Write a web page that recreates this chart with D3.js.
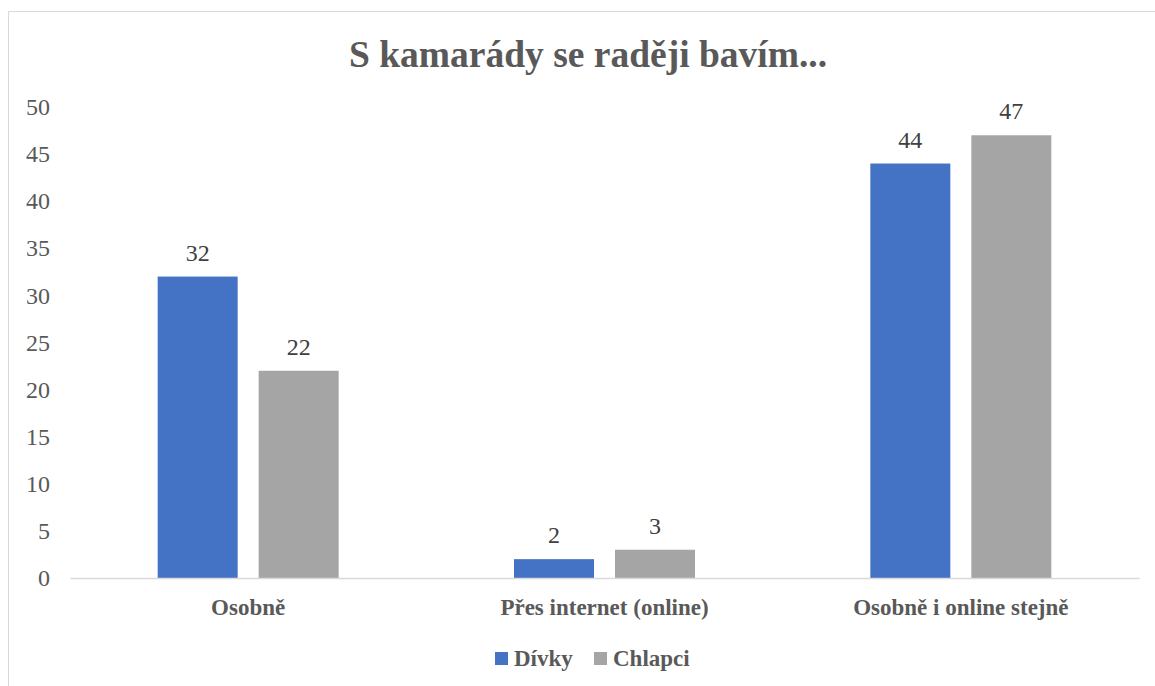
<!DOCTYPE html>
<html lang="cs">
<head>
<meta charset="UTF-8">
<title>S kamarády se raději bavím...</title>
<script src="https://d3js.org/d3.v7.min.js"></script>
<style>
  body { margin: 0; background: #fff; }
</style>
</head>
<body>
<script>
const categories = ["Osobně", "Přes internet (online)", "Osobně i online stejně"];
const seriesNames = ["Dívky", "Chlapci"];
const divky = [32, 2, 44];
const chlapci = [22, 3, 47];
const yTicks = [0, 5, 10, 15, 20, 25, 30, 35, 40, 45, 50];
const colors = ["#4472C4", "#A5A5A5"];

const W = 1155, H = 686;
const plotLeft = 70, plotRight = 1139, plotTop = 107, plotBottom = 578;
const serif = '"Times New Roman", Tinos, serif';

const svg = d3.select("body").append("svg")
  .attr("width", W).attr("height", H);

// chart frame (only top + left edges visible in the crop)
svg.append("path")
  .attr("d", `M8.5,${H} L8.5,11.5 L${W},11.5`)
  .attr("fill", "none").attr("stroke", "#d9d9d9").attr("stroke-width", 1);

svg.append("text")
  .attr("x", 588).attr("y", 67)
  .attr("text-anchor", "middle")
  .style("font-family", serif)
  .style("font-size", "37.5px").style("font-weight", "bold")
  .attr("fill", "#595959")
  .text("S kamarády se raději bavím...");

const x = d3.scaleBand().domain(categories).range([plotLeft, plotRight]);
const groupW = 181;
const xs = d3.scaleBand().domain(seriesNames)
  .range([(x.bandwidth() - groupW) / 2, (x.bandwidth() + groupW) / 2])
  .paddingInner(0.208);
const y = d3.scaleLinear().domain([0, 50]).range([plotBottom, plotTop]);

// y axis labels
const yAxis = svg.append("g")
  .attr("transform", `translate(${plotLeft},0)`)
  .call(d3.axisLeft(y).tickValues(yTicks).tickSize(0).tickPadding(20));
yAxis.select(".domain").remove();
yAxis.selectAll("text")
  .style("font-family", serif).style("font-size", "24px")
  .attr("fill", "#595959");

const rows = categories.map((c, i) => ({ cat: c, vals: [divky[i], chlapci[i]] }));

const groups = svg.selectAll("g.cat").data(rows).enter().append("g")
  .attr("class", "cat")
  .attr("transform", d => `translate(${x(d.cat)},0)`);

groups.selectAll("rect").data(d => d.vals.map((v, j) => ({ s: seriesNames[j], v, j })))
  .enter().append("rect")
  .attr("x", d => xs(d.s))
  .attr("width", xs.bandwidth())
  .attr("y", d => y(d.v))
  .attr("height", d => y(0) - y(d.v))
  .attr("fill", d => colors[d.j]);

groups.selectAll("text.val").data(d => d.vals.map((v, j) => ({ s: seriesNames[j], v })))
  .enter().append("text")
  .attr("class", "val")
  .attr("x", d => xs(d.s) + xs.bandwidth() / 2)
  .attr("y", d => y(d.v) - 16)
  .attr("text-anchor", "middle")
  .style("font-family", serif).style("font-size", "24px")
  .attr("fill", "#404040")
  .text(d => d.v);

// x axis
const xAxis = svg.append("g")
  .attr("transform", `translate(0,${plotBottom})`)
  .call(d3.axisBottom(x).tickSize(0).tickPadding(21));
xAxis.select(".domain").attr("stroke", "#d9d9d9").attr("stroke-width", 1.5);
xAxis.selectAll("text")
  .style("font-family", serif).style("font-size", "23px").style("font-weight", "bold")
  .attr("fill", "#595959");

// legend
const legendX = [495, 594];
const lg = svg.selectAll("g.leg").data(seriesNames).enter().append("g")
  .attr("class", "leg")
  .attr("transform", (d, i) => `translate(${legendX[i]},652)`);
lg.append("rect").attr("width", 13).attr("height", 13)
  .attr("fill", (d, i) => colors[i]);
lg.append("text").attr("x", 19).attr("y", 14)
  .style("font-family", serif).style("font-size", "23px").style("font-weight", "bold")
  .attr("fill", "#595959")
  .text(d => d);
</script>
</body>
</html>
